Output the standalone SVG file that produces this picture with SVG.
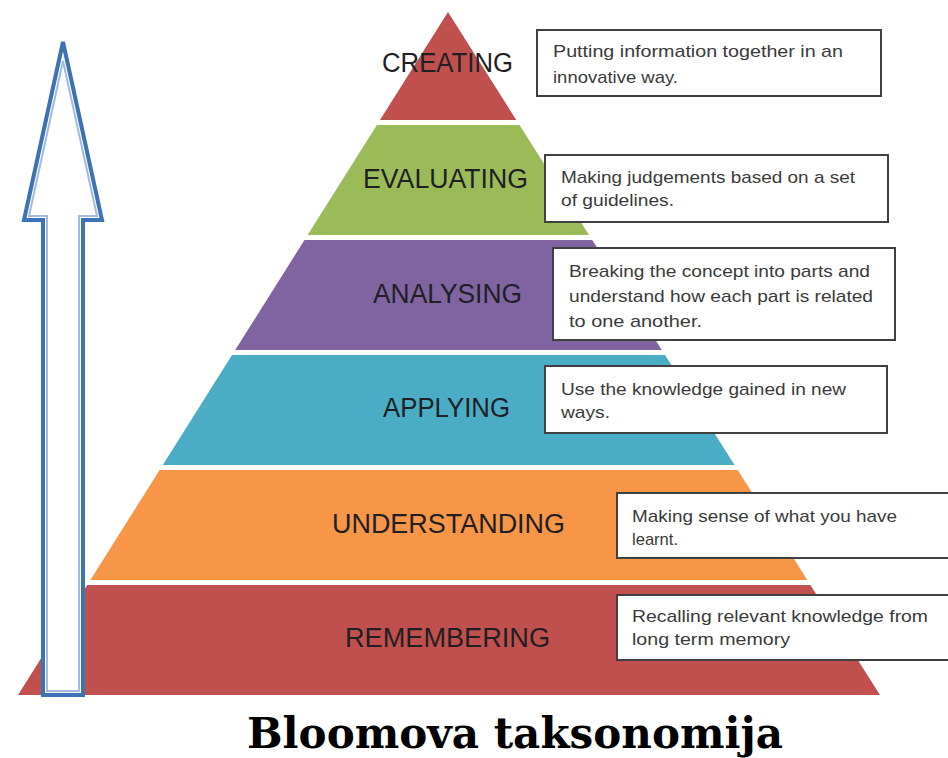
<svg xmlns="http://www.w3.org/2000/svg" width="948" height="758" viewBox="0 0 948 758">
<style>
.lbl{font-family:"Liberation Sans",Arial,sans-serif;font-size:27px;fill:#1f1f24;lengthAdjust:spacingAndGlyphs}
.box{fill:#ffffff;stroke:#404040;stroke-width:2}
.bt{font-family:"Liberation Sans",Arial,sans-serif;font-size:17px;fill:#3a3a3a}
.title{font-family:"DejaVu Serif","Liberation Serif",serif;font-weight:bold;font-size:42px;fill:#000}
</style>
<rect width="948" height="758" fill="#ffffff"/>

<g id="layer-creating">
<polygon points="448,12 516.3,120 380,120" fill="#C0504D"/>
<text class="lbl" x="382" y="72" textLength="131" lengthAdjust="spacingAndGlyphs">CREATING</text>
</g>
<g id="layer-evaluating">
<polygon points="376.9,125 519.5,125 589,235 307.6,235" fill="#9BBB59"/>
<text class="lbl" x="363" y="188" textLength="165" lengthAdjust="spacingAndGlyphs">EVALUATING</text>
</g>
<g id="layer-analysing">
<polygon points="304.5,240 592.2,240 661.8,350 235.2,350" fill="#8064A2"/>
<text class="lbl" x="373" y="303" textLength="149" lengthAdjust="spacingAndGlyphs">ANALYSING</text>
</g>
<g id="layer-applying">
<polygon points="232,355 665,355 734.5,465 162.8,465" fill="#4BACC6"/>
<text class="lbl" x="383" y="417" textLength="127" lengthAdjust="spacingAndGlyphs">APPLYING</text>
</g>
<g id="layer-understanding">
<polygon points="159.6,470 737.7,470 807.3,580 90.4,580" fill="#F79646"/>
<text class="lbl" x="332" y="533" textLength="233" lengthAdjust="spacingAndGlyphs">UNDERSTANDING</text>
</g>
<g id="layer-remembering">
<polygon points="87.2,585 810.4,585 880,695 18,695" fill="#C0504D"/>
<text class="lbl" x="345" y="647" textLength="205" lengthAdjust="spacingAndGlyphs">REMEMBERING</text>
</g>

<g id="box-creating">
<rect class="box" x="537" y="30" width="344" height="66"/>
<text class="bt" x="553" y="57" textLength="290" lengthAdjust="spacingAndGlyphs">Putting information together in an</text>
<text class="bt" x="553" y="83" textLength="125" lengthAdjust="spacingAndGlyphs">innovative way.</text>
</g>
<g id="box-evaluating">
<rect class="box" x="545" y="155" width="343" height="67"/>
<text class="bt" x="561" y="183" textLength="294" lengthAdjust="spacingAndGlyphs">Making judgements based on a set</text>
<text class="bt" x="561" y="206" textLength="113" lengthAdjust="spacingAndGlyphs">of guidelines.</text>
</g>
<g id="box-analysing">
<rect class="box" x="553" y="248" width="342" height="92"/>
<text class="bt" x="569" y="277" textLength="301" lengthAdjust="spacingAndGlyphs">Breaking the concept into parts and</text>
<text class="bt" x="569" y="302" textLength="304" lengthAdjust="spacingAndGlyphs">understand how each part is related</text>
<text class="bt" x="569" y="327" textLength="133" lengthAdjust="spacingAndGlyphs">to one another.</text>
</g>
<g id="box-applying">
<rect class="box" x="545" y="366" width="342" height="67"/>
<text class="bt" x="561" y="395" textLength="285" lengthAdjust="spacingAndGlyphs">Use the knowledge gained in new</text>
<text class="bt" x="561" y="418" textLength="49" lengthAdjust="spacingAndGlyphs">ways.</text>
</g>
<g id="box-understanding">
<rect class="box" x="617" y="493" width="340" height="65"/>
<text class="bt" x="632" y="522" textLength="265" lengthAdjust="spacingAndGlyphs">Making sense of what you have</text>
<text class="bt" x="632" y="545" textLength="46" lengthAdjust="spacingAndGlyphs">learnt.</text>
</g>
<g id="box-remembering">
<rect class="box" x="617" y="595" width="340" height="65"/>
<text class="bt" x="632" y="622" textLength="296" lengthAdjust="spacingAndGlyphs">Recalling relevant knowledge from</text>
<text class="bt" x="632" y="645" textLength="158" lengthAdjust="spacingAndGlyphs">long term memory</text>
</g>

<g id="connectors">
<g id="arrow">
<polygon points="63,42 102,220 83,220 83,695 43,695 43,220 24,220" fill="#ffffff" stroke="#3C72B6" stroke-width="4" stroke-linejoin="miter"/>
<polygon points="63,61 97,216 79,216 79,691 47,691 47,216 29,216" fill="none" stroke="#A3BCDD" stroke-width="2"/>
</g>
</g>

<g id="title">
<text class="title" x="247" y="748" textLength="536" lengthAdjust="spacingAndGlyphs">Bloomova taksonomija</text>
</g>
</svg>
